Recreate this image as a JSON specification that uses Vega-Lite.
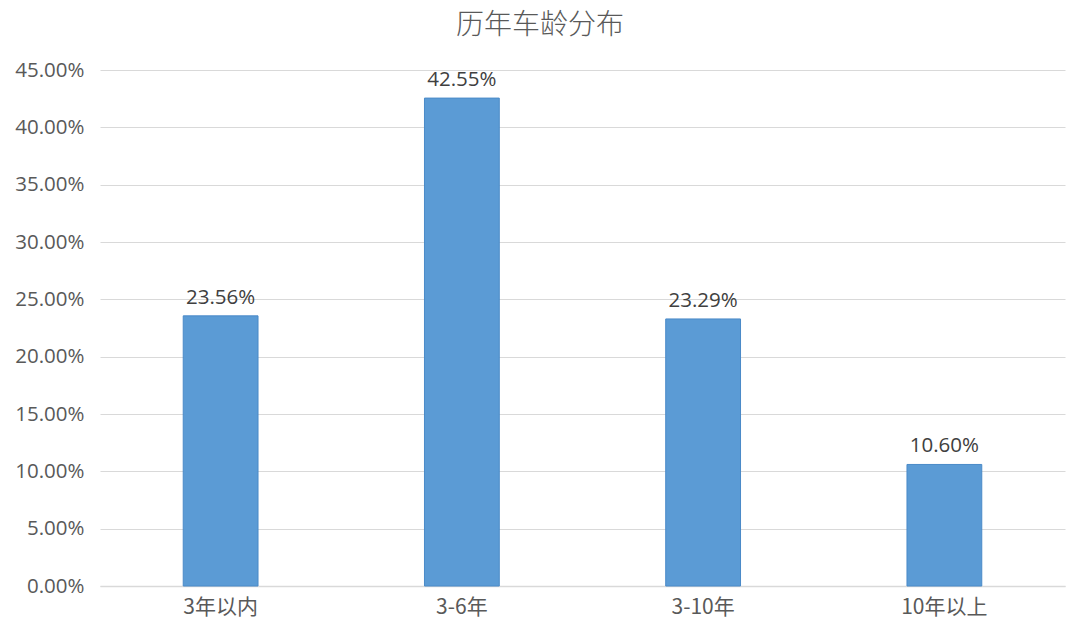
{
  "$schema": "https://vega.github.io/schema/vega-lite/v6.json",
  "autosize": "none",
  "width": 965,
  "height": 516,
  "padding": {"left": 100, "top": 70, "right": 15, "bottom": 58},
  "background": "white",
  "title": {"text": "历年车龄分布", "fontSize": 28, "font": "Noto Sans CJK SC", "fontWeight": 300, "color": "#595959", "offset": 20, "anchor": "middle", "frame": "bounds"},
  "data": {"values": [
    {"cat": "3年以内", "v": 0.2356},
    {"cat": "3-6年", "v": 0.4255},
    {"cat": "3-10年", "v": 0.2329},
    {"cat": "10年以上", "v": 0.1060}
  ]},
  "encoding": {
    "x": {"field": "cat", "type": "nominal", "sort": null, "title": null,
      "scale": {"paddingInner": 0.69, "paddingOuter": 0.345},
      "axis": {"labelAngle": 0, "labelFontSize": 21, "labelFont": "Noto Sans CJK SC", "labelColor": "#595959", "labelPadding": 10, "domainColor": "#D9D9D9", "domainWidth": 1.5, "ticks": false}},
    "y": {"field": "v", "type": "quantitative", "title": null,
      "scale": {"domain": [0, 0.45], "nice": false},
      "axis": {"format": ".2%", "values": [0,0.05,0.1,0.15,0.2,0.25,0.3,0.35,0.4,0.45], "labelFontSize": 20.5, "labelFont": "Open Sans", "labelColor": "#595959", "labelPadding": 16, "ticks": false, "domain": false, "gridColor": "#D9D9D9", "gridWidth": 1.2}}
  },
  "layer": [
    {"mark": {"type": "bar", "color": "#5B9BD5", "stroke": "#4A8AC8", "strokeWidth": 1}},
    {"mark": {"type": "text", "baseline": "bottom", "dy": -8, "fontSize": 20.5, "font": "Open Sans", "color": "#404040"},
     "encoding": {"text": {"field": "v", "type": "quantitative", "format": ".2%"}}}
  ],
  "config": {"view": {"stroke": null}}
}
